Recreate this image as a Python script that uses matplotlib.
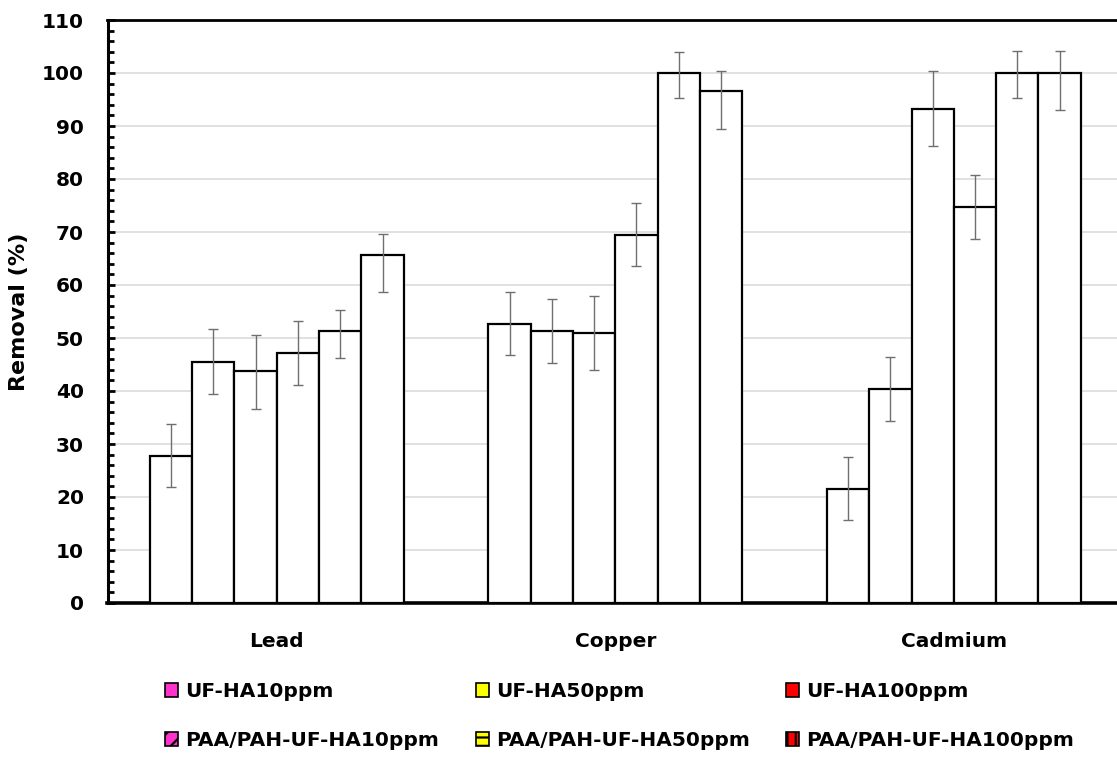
import numpy as np
import matplotlib
matplotlib.use("Agg")
import matplotlib.pyplot as plt
import matplotlib.patches as mpatches
from matplotlib.ticker import MultipleLocator

plt.rcParams['font.family'] = ['DejaVu Sans']
plt.rcParams['font.weight'] = 'bold'
plt.rcParams['hatch.linewidth'] = 1.6

metals = ["Lead", "Copper", "Cadmium"]
series_names = ["UF-HA10ppm", "UF-HA50ppm", "UF-HA100ppm",
                "PAA/PAH-UF-HA10ppm", "PAA/PAH-UF-HA50ppm", "PAA/PAH-UF-HA100ppm"]

# removal (%) per series, for Lead, Copper, Cadmium
uf_ha10 = [27.8, 52.6, 21.6]
uf_ha50 = [45.4, 51.3, 40.4]
uf_ha100 = [43.7, 50.9, 93.3]
paa_ha10 = [47.2, 69.5, 74.8]
paa_ha50 = [51.4, 100.0, 100.0]
paa_ha100 = [65.6, 96.6, 100.0]

# error bars (lower, upper)
err_lo = [[6.0, 5.9, 6.0], [6.0, 6.0, 6.0], [7.1, 6.9, 7.1],
          [6.1, 6.0, 6.1], [5.2, 4.8, 4.8], [7.0, 7.1, 7.0]]
err_hi = [[6.0, 6.1, 6.0], [6.3, 6.1, 6.0], [6.9, 7.1, 7.1],
          [6.1, 6.0, 5.9], [3.8, 4.0, 4.2], [4.0, 3.8, 4.2]]

values = [uf_ha10, uf_ha50, uf_ha100, paa_ha10, paa_ha50, paa_ha100]

legend_colors = ["#FF33CC", "#FFFF00", "#FF0000", "#FF33CC", "#FFFF00", "#FF0000"]
legend_hatches = ["", "", "", "//", "--", "||"]

fig = plt.figure(figsize=(11.17, 7.58), dpi=100)
ax = fig.add_axes([107.5 / 1117, 155 / 758, 1 - 107.5 / 1117, (603 - 20) / 758])

x = np.arange(len(metals))
width = 0.125
for i, vals in enumerate(values):
    pos = x + (i - 2.5) * width
    ax.bar(pos, vals, width=width, color="white", edgecolor="black",
           linewidth=1.6, zorder=3)
    ax.errorbar(pos, vals, yerr=[err_lo[i], err_hi[i]], fmt="none",
                ecolor="#6f6f6f", elinewidth=1.0, capsize=3.5, capthick=1.0,
                zorder=4)

ax.set_xlim(-0.5, 2.482)
ax.set_ylim(0, 110)
ax.yaxis.set_major_locator(MultipleLocator(10))
ax.yaxis.set_minor_locator(MultipleLocator(2))
ax.grid(axis="y", which="major", color="#d9d9d9", linewidth=1.1, zorder=0)
ax.set_axisbelow(True)

ax.set_xticks(x)
ax.set_xticklabels(metals, fontsize=14.5, fontweight="bold")
ax.tick_params(axis="x", length=0, pad=21)
ax.tick_params(axis="y", which="major", direction="in", length=5, width=2,
               labelsize=14.5, pad=17)
ax.tick_params(axis="y", which="minor", direction="in", length=4.5, width=2)
for lab in ax.get_yticklabels():
    lab.set_fontweight("bold")

ax.spines["right"].set_visible(False)
ax.spines["left"].set_linewidth(2.2)
ax.spines["bottom"].set_linewidth(2.6)
ax.spines["top"].set_linewidth(2.0)

ax.set_ylabel("Removal (%)", fontsize=16, fontweight="bold")
ax.yaxis.set_label_coords(-78 / 1009.5, 0.5)

handles = [mpatches.Patch(facecolor=c, edgecolor="black", hatch=h, linewidth=1.2)
           for c, h in zip(legend_colors, legend_hatches)]

col_x = [165 / 1117, 476 / 1117, 786 / 1117]
for j in range(3):
    fig.legend([handles[j], handles[j + 3]], [series_names[j], series_names[j + 3]],
               loc="upper left", bbox_to_anchor=(col_x[j], (758 - 682) / 758),
               frameon=False, prop={"weight": "bold", "size": 14.5},
               handlelength=0.65, handleheight=0.65, handletextpad=0.35,
               labelspacing=1.5, borderpad=0, borderaxespad=0)

fig.savefig("out.png", dpi=100)
